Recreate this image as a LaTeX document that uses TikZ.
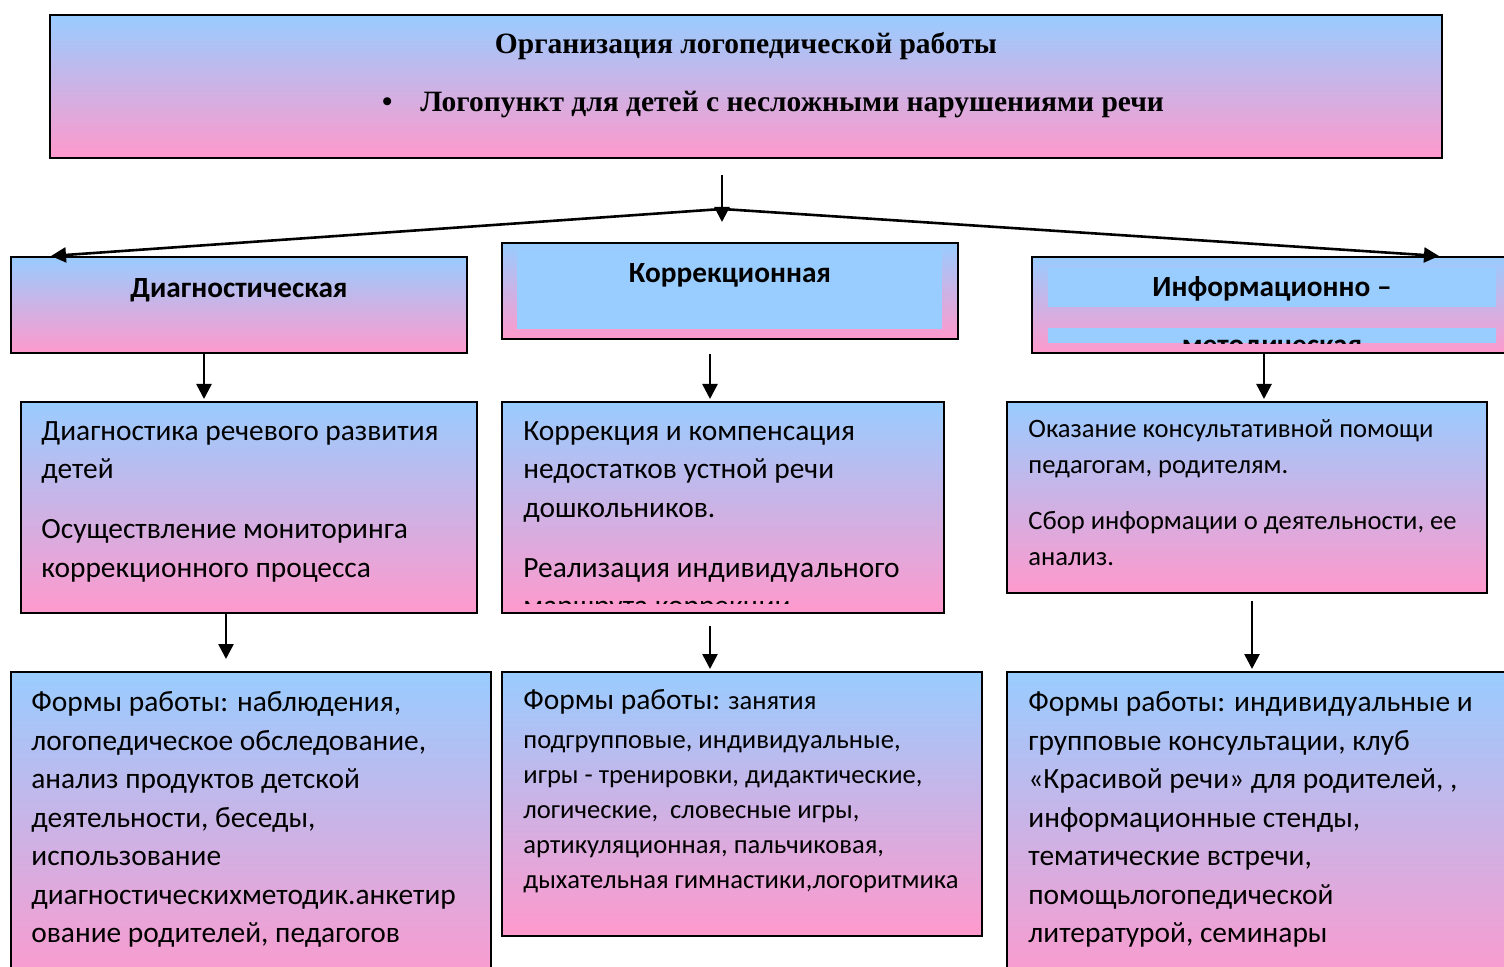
\documentclass[tikz,border=0pt]{standalone}
\usepackage{fontspec}
\setmainfont{Carlito}
\newfontfamily\titlefont{Liberation Serif}
\usetikzlibrary{positioning, arrows.meta}
\definecolor{skyBlue}{RGB}{153,204,255}
\definecolor{rosePink}{RGB}{255,153,204}
\tikzstyle{gradBox} = [shape=rectangle, draw=black, line width=1pt,
	top color=skyBlue, bottom color=rosePink, inner sep=0pt]
\tikzstyle{blueStrip} = [shape=rectangle, fill=skyBlue, inner sep=0pt]
\tikzstyle{headText} = [text=black, font=\bfseries\fontsize{14.65}{18}\selectfont]
\tikzstyle{titleText} = [text=black, font=\titlefont\bfseries\fontsize{14.75}{18}\selectfont]
\tikzstyle{bodyText} = [text=black, anchor=north west, align=left, inner sep=0pt,
	font=\fontsize{14.7}{19.25}\selectfont]
\tikzstyle{smallText} = [bodyText, font=\fontsize{13.3}{18}\selectfont]
\tikzstyle{normalArrow} = [line width=1.3pt,->,>={Triangle[length=7.5pt,width=7.5pt]}, draw=black]

\begin{document}
\begin{tikzpicture}[x=0.5pt, y=-0.5pt]
  \useasboundingbox (0,0) rectangle (1504,967);

  % top
  \node (org) at (746,86.5) [gradBox, minimum width=696pt, minimum height=71.5pt] {};
  \node (orgTitle) at (746,46) [titleText] {Организация логопедической работы};
  \node (orgPoint) at (375,105) [titleText, anchor=west] {•\hspace{14pt}Логопункт для детей с несложными нарушениями речи};

  % directions
  \node (diag) at (239,305) [gradBox, minimum width=228pt, minimum height=48pt] {};
  \node (diagText) at (239,290) [headText] {Диагностическая};

  \node (korr) at (730,291) [gradBox, minimum width=228pt, minimum height=48pt] {};
  \node (korrStrip) at (729.5,289.5) [blueStrip, minimum width=212.5pt, minimum height=39.5pt] {};
  \node (korrText) at (730,275) [headText] {Коррекционная};

  \node (info) at (1276,305) [gradBox, minimum width=244pt, minimum height=48pt] {};
  \node (infoStrip) at (1272,287.5) [blueStrip, minimum width=224pt, minimum height=19.5pt] {};
  \node (infoStripB) at (1272,335.5) [blueStrip, minimum width=224pt, minimum height=7.5pt] {};
  \node (infoText) at (1272,289) [headText] {Информационно –};
  \begin{scope}
    \clip (infoStripB.north west) rectangle (infoStripB.south east);
    \node (infoTextB) at (1272,350) [headText] {методическая};
  \end{scope}

  % tasks
  \node (diagMain) at (249,507.5) [gradBox, minimum width=228pt, minimum height=105.5pt] {};
  \node (diagMainText) at (41,421) [bodyText] {Диагностика речевого развития\\детей\\[10.75pt]Осуществление мониторинга\\коррекционного процесса};

  \node (korrMain) at (723,507.5) [gradBox, minimum width=221pt, minimum height=105.5pt] {};
  \node (korrMainText) at (523,421) [bodyText] {Коррекция и компенсация\\недостатков устной речи\\дошкольников.\\[10.75pt]Реализация индивидуального};
  \begin{scope}
    \clip (korrMain.north west) rectangle (944,603);
    \node (korrMainTextB) at (523,600.5) [bodyText] {маршрута коррекции};
  \end{scope}

  \node (infoMain) at (1247,497.5) [gradBox, minimum width=240pt, minimum height=95.5pt] {};
  \node (infoMainText) at (1028,419.5) [smallText] {Оказание консультативной помощи\\педагогам, родителям.\\[10pt]Сбор информации о деятельности, ее\\анализ.};

  % forms
  \node (diagForms) at (251,831) [gradBox, minimum width=240pt, minimum height=159pt] {};
  \node (diagFormsText) at (31,691.5) [bodyText] {Формы работы: наблюдения,\\логопедическое обследование,\\анализ продуктов детской\\деятельности, беседы,\\использование\\диагностическихметодик.анкетир\\ование родителей, педагогов};

  \node (korrForms) at (742,804) [gradBox, minimum width=240pt, minimum height=132pt] {};
  \node (korrFormsText) at (523,689.5) [smallText, font=\fontsize{13.3}{17.5}\selectfont] {{\fontsize{14.7}{17.5}\selectfont Формы работы:} занятия\\[2pt]подгрупповые, индивидуальные,\\игры - тренировки, дидактические,\\логические,\ \ словесные игры,\\артикуляционная, пальчиковая,\\дыхательная гимнастики,логоритмика};

  \node (infoForms) at (1268.5,831) [gradBox, minimum width=261.5pt, minimum height=159pt] {};
  \node (infoFormsText) at (1028,691.5) [bodyText] {Формы работы: индивидуальные и\\групповые консультации, клуб\\«Красивой речи» для родителей, ,\\информационные стенды,\\тематические встречи,\\помощьлогопедической\\литературой, семинары};

  % arrows
  \coordinate (forkTop) at (722,175);
  \coordinate (forkEnd) at (722,222);
  \coordinate (fork) at (722,209);
  \draw [normalArrow] (forkTop) -- (forkEnd);
  \draw [normalArrow] (fork) -- ([xshift=20.5pt]diag.north west);
  \draw [normalArrow] (fork) -- ([xshift=204pt]info.north west);

  \draw [normalArrow, shorten >=1pt] ([xshift=-17.5pt]diag.south) -- ([xshift=-17.5pt]diag.south |- diagMain.north);
  \draw [normalArrow, shorten <=7pt, shorten >=1pt] ([xshift=-10pt]korr.south) -- ([xshift=-10pt]korr.south |- korrMain.north);
  \draw [normalArrow, shorten >=1pt] ([xshift=-6pt]info.south) -- ([xshift=-6pt]info.south |- infoMain.north);

  \draw [normalArrow, shorten >=6pt] ([xshift=-11.5pt]diagMain.south) -- ([xshift=-11.5pt]diagMain.south |- diagForms.north);
  \draw [normalArrow, shorten <=6pt, shorten >=1pt] ([xshift=-6.5pt]korrMain.south) -- ([xshift=-6.5pt]korrMain.south |- korrForms.north);
  \draw [normalArrow, shorten <=3.5pt, shorten >=1pt] ([xshift=2.5pt]infoMain.south) -- ([xshift=2.5pt]infoMain.south |- infoForms.north);
\end{tikzpicture}
\end{document}
